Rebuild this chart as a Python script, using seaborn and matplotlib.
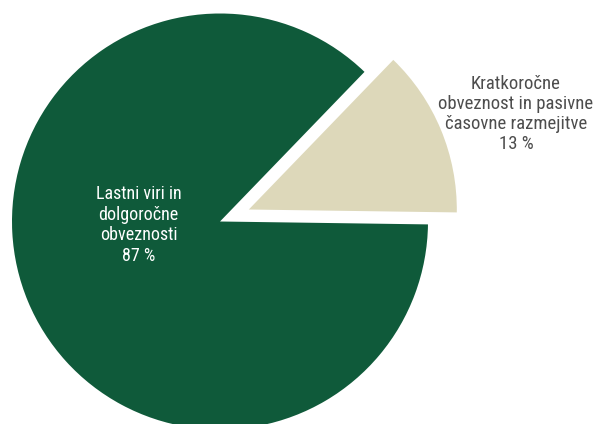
import matplotlib
matplotlib.use("Agg")
import matplotlib.pyplot as plt
import seaborn as sns

# data
categories = ["Lastni viri in\ndolgoročne\nobveznosti", "Kratkoročne\nobveznost in pasivne\nčasovne razmejitve"]
values = [87, 13]
pct_labels = ["87 %", "13 %"]
colors = ["#0F5A3A", "#DDD8BA"]

sns.set_theme(style="white")
plt.rcParams['font.family'] = ['Roboto Condensed', 'DejaVu Sans']

fig = plt.figure(figsize=(5.93, 4.24), dpi=100)
ax = fig.add_axes([0, 0, 1, 1])

R = 208.0
cx, cy = 220.0, 221.5
wedges, _ = ax.pie(values, colors=colors, startangle=46, counterclock=True,
                   explode=[0, 0.15], radius=1.0, center=(0, 0),
                   wedgeprops=dict(linewidth=0))

ax.set_aspect('auto')
ax.set_xlim(-cx / R, (593 - cx) / R)
ax.set_ylim((cy - 424) / R, cy / R)
ax.axis('off')

def px(x, y):
    return (x - cx) / R, (cy - y) / R

x0, y0 = px(138.5, 225)
ax.text(x0, y0, categories[0] + "\n" + pct_labels[0], ha='center', va='center',
        fontsize=13, color='white', linespacing=1.19)
x1, y1 = px(516, 114)
ax.text(x1, y1, categories[1] + "\n" + pct_labels[1], ha='center', va='center',
        fontsize=13.5, color='#4d4d4d', linespacing=1.14)

fig.savefig("out.png", dpi=100)
